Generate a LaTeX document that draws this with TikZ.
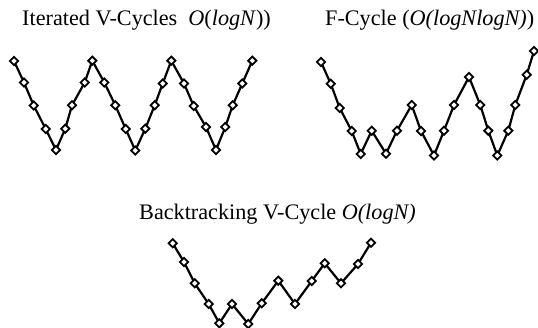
\documentclass[tikz,border=0pt]{standalone}
\usepackage{fontspec}
\setmainfont{Liberation Serif}
\usetikzlibrary{shapes.geometric}
\tikzset{
  cyc/.style={line width=2.2pt, line join=round},
  dm/.style={diamond, draw, fill=white, line width=1.8pt, inner sep=0pt, minimum size=9pt},
  ttl/.style={anchor=base west, inner sep=0pt, font=\fontsize{22.2}{25}\selectfont}
}
\begin{document}
\begin{tikzpicture}[x=1pt,y=1pt]
\useasboundingbox (0,0) rectangle (538,-328);
% titles
\node[ttl] (t1) at (22,-26) {Iterated V-Cycles \ \textit{O}(\textit{logN}))};
\node[ttl] (t2) at (325,-26) {F-Cycle (\textit{O(logNlogN)})};
\node[ttl] (t3) at (139,-220) {Backtracking V-Cycle \textit{O(logN)}};
% iterated V-cycles
\foreach \x/\y [count=\i] in {14/61, 24/82.5, 33.7/105.5, 45.7/129, 56/150,
  65.3/128.7, 72/105.3, 84.7/82.5, 92.3/60.7, 104.3/82.5, 115.3/105.3,
  125.7/129, 135.3/150.5, 145.3/128.7, 154.7/105.3, 162.7/83.5, 171.3/60.7,
  184/83.5, 193.7/106, 206/127, 216/150, 225.3/127, 232.7/105.3, 242.3/83.5, 252.3/60.7}
  \coordinate (a\i) at (\x,-\y);
\draw[cyc] (a1) \foreach \i in {2,...,25} {-- (a\i)};
\foreach \i in {1,...,25} \node[dm] (na\i) at (a\i) {};
% F-cycle
\foreach \x/\y [count=\i] in {321/62, 330.7/83.7, 339.7/108, 351.7/131, 360.7/154,
  371.7/130.7, 386/153.7, 397/130.7, 411.7/105, 421/131, 434/155.5, 444/130.7,
  454/105, 469/77, 480.3/105, 488.3/130.7, 497.3/155.5, 508.3/130.7, 515.3/105,
  526.7/74.7, 534/51}
  \coordinate (b\i) at (\x,-\y);
\draw[cyc] (b1) \foreach \i in {2,...,21} {-- (b\i)};
\foreach \i in {1,...,21} \node[dm] (nb\i) at (b\i) {};
% backtracking V-cycle
\foreach \x/\y [count=\i] in {172.7/243.3, 184/262, 194.7/283.3, 208.7/304, 219.3/323.3,
  232/304, 248.3/324, 261.7/303.3, 278.3/280.7, 295/304, 311.7/281, 324.7/263.3,
  341/283.3, 358/264, 371/242.7}
  \coordinate (c\i) at (\x,-\y);
\draw[cyc] (c1) \foreach \i in {2,...,15} {-- (c\i)};
\foreach \i in {1,...,15} \node[dm] (nc\i) at (c\i) {};
\end{tikzpicture}
\end{document}
